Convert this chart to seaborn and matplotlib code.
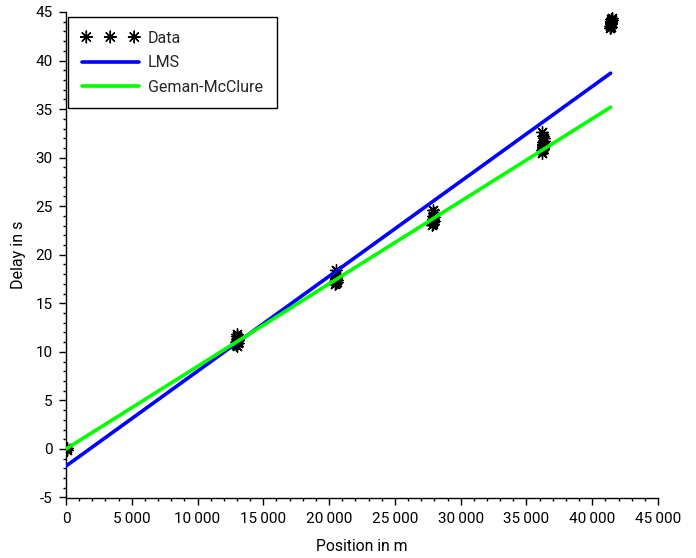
import matplotlib
matplotlib.use("Agg")
import matplotlib.pyplot as plt
import seaborn as sns
import pandas as pd
from matplotlib.ticker import MultipleLocator, FuncFormatter

# ---- data ----
position_m = [
    0, 30, 60, 90,
    12930, 12960, 12990, 13020, 13050, 13080, 12970, 13010, 13040, 13000,
    20450, 20480, 20510, 20540, 20570, 20600, 20500, 20530, 20560, 20520,
    27830, 27860, 27890, 27920, 27950, 27980, 27870, 27900, 27940, 27910,
    36180, 36210, 36240, 36270, 36300, 36330, 36220, 36260, 36290, 36250, 36230, 36280,
    41350, 41380, 41410, 41440, 41470, 41500, 41390, 41430, 41460, 41420,
]
delay_s = [
    0.0, 0.1, -0.1, 0.05,
    10.7, 11.0, 11.3, 11.6, 11.2, 10.9, 11.8, 10.6, 11.4, 11.1,
    17.0, 17.3, 17.6, 18.0, 17.4, 17.2, 18.4, 17.8, 17.1, 17.5,
    23.1, 23.4, 23.7, 24.0, 24.3, 23.5, 24.6, 23.2, 23.9, 23.6,
    30.5, 30.8, 31.1, 31.4, 31.7, 32.0, 32.6, 30.9, 31.3, 32.2, 31.0, 31.6,
    43.4, 43.6, 43.8, 44.0, 44.2, 44.4, 43.5, 43.9, 44.3, 44.1,
]
fit_x_m = [0, 41400]
lms_delay_s = [-1.76, 38.7]
gm_delay_s = [0.0, 35.2]

data = pd.DataFrame({"Position": position_m, "Delay": delay_s})
fits = pd.DataFrame({"Position": fit_x_m, "LMS": lms_delay_s, "GM": gm_delay_s})

sns.set_theme(style="ticks")
plt.rcParams['font.family'] = ['Roboto', 'DejaVu Sans']

fig = plt.figure(figsize=(6.96, 5.58), dpi=100)
ax = fig.add_axes([66 / 696, 1 - 497.5 / 558, 592 / 696, 485.5 / 558])

sns.scatterplot(data=data, x="Position", y="Delay", marker=(8, 2, 0), s=70,
                color="black", linewidth=1.0, label="Data", ax=ax, zorder=2)
sns.lineplot(data=fits, x="Position", y="LMS", color=(0, 0, 1), lw=2.6,
             label="LMS", ax=ax, zorder=3)
sns.lineplot(data=fits, x="Position", y="GM", color=(0, 1, 0), lw=2.6,
             label="Geman-McClure", ax=ax, zorder=3)

ax.set_xlim(0, 45000)
ax.set_ylim(-5, 45)
ax.xaxis.set_major_locator(MultipleLocator(5000))
ax.xaxis.set_minor_locator(MultipleLocator(1000))
ax.yaxis.set_major_locator(MultipleLocator(5))
ax.yaxis.set_minor_locator(MultipleLocator(1))
ax.xaxis.set_major_formatter(FuncFormatter(lambda v, p: f"{int(round(v)):,}".replace(",", "\u2009")))
ax.yaxis.set_major_formatter(FuncFormatter(lambda v, p: f"{int(round(v))}"))

sns.despine(ax=ax)
for s in ("left", "bottom"):
    ax.spines[s].set_color("black")
    ax.spines[s].set_linewidth(1.0)
ax.tick_params(which="major", direction="out", length=5, width=1.0, color="black",
               labelsize=11, labelcolor="black")
ax.tick_params(which="minor", direction="out", length=2.5, width=1.0, color="black")
ax.tick_params(axis="x", which="major", pad=5.5)
ax.tick_params(axis="y", which="major", pad=4.5)

ax.set_xlabel("Position in m", fontsize=11.3, color="black", labelpad=9)
ax.set_ylabel("Delay in s", fontsize=11.5, color="black", labelpad=7)

leg = ax.legend(loc="upper left", bbox_to_anchor=(2 / 592, 1 - 5 / 485.5),
                borderaxespad=0, fancybox=False, framealpha=1, edgecolor="black",
                fontsize=11.5, scatterpoints=3, scatteryoffsets=[0.5],
                handlelength=3.6, handletextpad=0.56, labelspacing=0.6,
                borderpad=0.85)
leg.get_frame().set_linewidth(1.0)

fig.savefig("out.png", dpi=100)
